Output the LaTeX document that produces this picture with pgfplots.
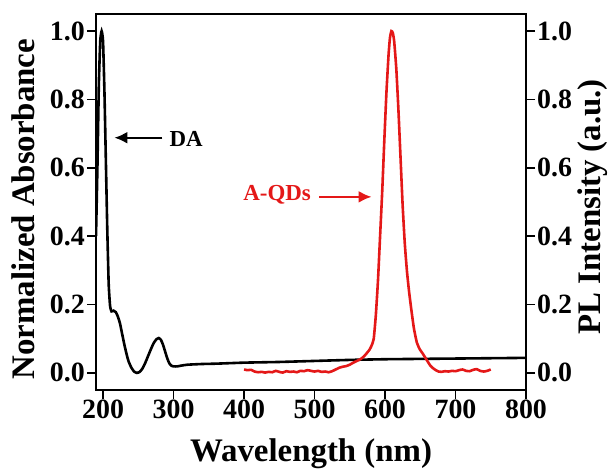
\documentclass[border=0pt]{standalone}
\usepackage{fontspec}
\setmainfont{Liberation Serif}
\usepackage{pgfplots}
\pgfplotsset{compat=1.18}
\usetikzlibrary{arrows.meta}
\definecolor{plred}{RGB}{228,24,24}
\pgfplotstableread{
x y
190 0.40
192 0.60
194 0.84
196 0.97
198 1.00
200 0.97
202 0.82
204 0.62
206 0.42
208 0.26
210 0.195
212 0.18
215 0.182
218 0.178
221 0.165
224 0.145
227 0.115
230 0.085
233 0.058
236 0.035
240 0.016
244 0.004
248 0.000
252 0.003
256 0.013
260 0.030
264 0.050
268 0.070
272 0.088
276 0.099
279 0.102
282 0.097
285 0.083
288 0.063
291 0.043
294 0.028
297 0.021
300 0.019
305 0.019
310 0.021
320 0.024
340 0.026
360 0.027
400 0.030
450 0.032
500 0.035
550 0.038
600 0.040
650 0.041
700 0.042
750 0.043
800 0.044
}\datada
\pgfplotstableread{
x y
400 0.010
405 0.008
410 0.009
415 0.004
420 0.002
425 0.003
430 0.001
435 0.003
440 0.002
445 0.006
450 0.003
455 0.001
460 0.005
465 0.003
470 0.004
475 0.002
480 0.006
485 0.005
490 0.008
495 0.006
500 0.004
505 0.006
510 0.003
515 0.004
520 0.002
525 0.005
530 0.010
535 0.015
540 0.018
545 0.020
550 0.024
555 0.030
560 0.035
565 0.040
570 0.048
575 0.060
578 0.068
581 0.080
584 0.10
587 0.17
590 0.27
593 0.40
596 0.53
599 0.68
602 0.82
605 0.93
607 0.98
609 1.00
611 0.995
613 0.97
616 0.89
619 0.77
622 0.63
625 0.49
628 0.38
631 0.30
634 0.24
637 0.19
641 0.13
645 0.09
649 0.07
653 0.058
657 0.045
660 0.035
664 0.022
668 0.014
672 0.008
676 0.004
680 0.003
685 0.005
690 0.004
695 0.006
700 0.005
705 0.008
710 0.010
715 0.006
720 0.005
725 0.009
730 0.011
735 0.006
740 0.004
745 0.006
750 0.010
}\datapl
\newcommand{\tickfont}{\fontsize{28}{28}\selectfont\bfseries}
\newcommand{\labfont}{\fontsize{33}{33}\selectfont\bfseries}
\newcommand{\annfont}{\fontsize{23}{23}\selectfont\bfseries}
\begin{document}
\begin{tikzpicture}[x=1bp,y=1bp]
\path[use as bounding box] (0,0) rectangle (613,470);
\pgfplotsset{
  common/.style={
    at={(96bp,80bp)}, anchor=south west,
    scale only axis, width=430bp, height=376bp,
    xmin=190, xmax=800, ymin=-0.05, ymax=1.05,
    axis line style={line width=1.6bp},
    every tick/.style={line width=1.6bp, black},
    major tick length=9bp,
    tick align=outside,
    ytick={0,0.2,0.4,0.6,0.8,1},
    yticklabels={0.0,0.2,0.4,0.6,0.8,1.0},
    xtick={200,300,400,500,600,700,800},
    xticklabels={200,300,400,500,600,700,800},
    tick label style={font=\tickfont},
    xticklabel style={inner sep=1bp},
    yticklabel style={inner sep=2bp},
  }
}
\begin{axis}[common,
  xtick pos=left, ytick pos=left,
  xlabel={Wavelength (nm)},
  ylabel={Normalized Absorbance},
  xlabel style={at={(axis description cs:0.500,-0.170)}, anchor=center, font=\labfont},
  ylabel style={at={(axis description cs:-0.170,0.481)}, anchor=center, font=\labfont},
]
\addplot[black, line width=2.6bp, smooth, tension=0.3] table[x=x,y=y] {\datada};
\draw[-{Latex[length=13bp,width=12bp]}, line width=2.4bp] (axis cs:284,0.688) -- (axis cs:216,0.688);
\node[font=\annfont, anchor=center] at (axis cs:318,0.683) {DA};
\draw[plred, -{Latex[length=13bp,width=12bp]}, line width=2.4bp] (axis cs:507,0.515) -- (axis cs:581,0.515);
\node[plred, font=\annfont, anchor=center] at (axis cs:447,0.521) {A-QDs};
\end{axis}
\begin{axis}[common,
  axis x line=none, axis y line*=right,
  ytick pos=right,
  ylabel={PL Intensity (a.u.)},
  ylabel style={at={(axis description cs:1.156,0.487)}, anchor=center, rotate=0, font=\labfont},
]
\addplot[plred, line width=2.6bp, smooth, tension=0.3] table[x=x,y=y] {\datapl};
\end{axis}
\end{tikzpicture}
\end{document}
